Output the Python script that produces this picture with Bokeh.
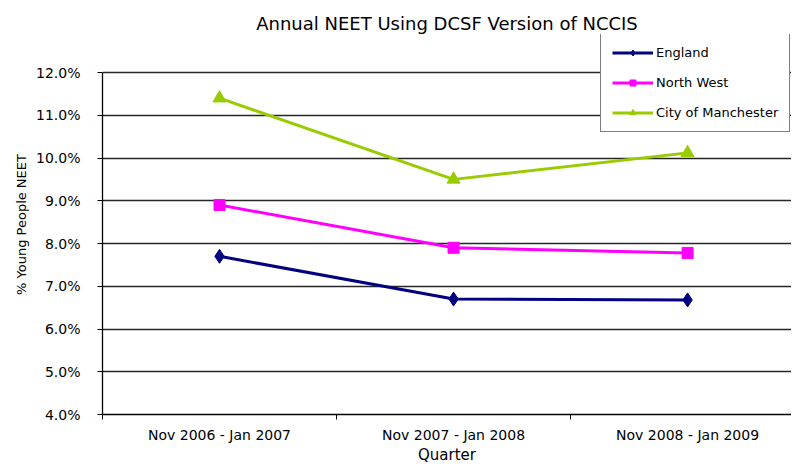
from bokeh.plotting import figure
from bokeh.models import FixedTicker, PrintfTickFormatter, Range1d, Legend, LegendItem
from bokeh.embed import file_html
from bokeh.resources import INLINE

categories = ["Nov 2006 - Jan 2007", "Nov 2007 - Jan 2008", "Nov 2008 - Jan 2009"]
england = [7.7, 6.7, 6.68]
north_west = [8.9, 7.9, 7.78]
manchester = [11.4, 9.5, 10.12]
y_ticks = [4, 5, 6, 7, 8, 9, 10, 11, 12]

x = [i + 0.5 for i in range(len(categories))]
FONT = "DejaVu Sans"

p = figure(width=791, height=467, output_backend="svg", toolbar_location=None,
           x_range=Range1d(0, 2.944), y_range=Range1d(4, 12.889),
           title="Annual NEET Using DCSF Version of NCCIS",
           min_border_left=102, min_border_right=0, min_border_top=34, min_border_bottom=53)
p.outline_line_color = None
p.background_fill_color = "white"
p.border_fill_color = "white"

p.title.align = "center"
p.title.text_font = FONT
p.title.text_font_size = "18px"
p.title.text_font_style = "normal"
p.title.text_color = "black"
p.title.standoff = 1

# grid
p.xgrid.grid_line_color = None
p.ygrid.grid_line_color = "black"
p.ygrid.grid_line_width = 1.3
p.ygrid.grid_line_alpha = 0.85
p.ygrid.bounds = (4, 12)

# axes
p.yaxis.ticker = FixedTicker(ticks=y_ticks)
p.yaxis.formatter = PrintfTickFormatter(format="%.1f%%")
p.yaxis.axis_label = "% Young People NEET"
p.yaxis.bounds = (4, 12)
p.xaxis.ticker = FixedTicker(ticks=x, minor_ticks=[0, 1, 2, 3])
p.xaxis.major_label_overrides = {xi: c for xi, c in zip(x, categories)}
p.xaxis.axis_label = "Quarter"
for ax in (p.xaxis[0], p.yaxis[0]):
    ax.axis_line_color = "black"
    ax.axis_line_width = 1.3
    ax.major_label_text_font = FONT
    ax.major_label_text_font_size = "14px"
    ax.major_label_text_color = "black"
    ax.axis_label_text_font = FONT
    ax.axis_label_text_font_style = "normal"
    ax.axis_label_text_color = "black"
p.yaxis.major_tick_out = 5
p.yaxis.major_tick_in = 0
p.yaxis.minor_tick_line_color = None
p.yaxis.major_tick_line_color = "black"
p.yaxis.axis_label_text_font_size = "13px"
p.yaxis.axis_label_standoff = 4
p.yaxis.major_label_standoff = 17
p.xaxis.major_tick_out = 0
p.xaxis.major_tick_in = 0
p.xaxis.minor_tick_out = 5
p.xaxis.minor_tick_in = 0
p.xaxis.minor_tick_line_color = "black"
p.xaxis.major_label_standoff = 7
p.xaxis.axis_label_text_font_size = "15px"
p.xaxis.axis_label_standoff = 0

series = [
    ("England", england, "#000080", "diamond", 14),
    ("North West", north_west, "#FF00FF", "square", 11),
    ("City of Manchester", manchester, "#99CC00", "triangle", 13),
]
items = []
for name, vals, color, marker, size in series:
    r1 = p.line(x, vals, line_color=color, line_width=3)
    r2 = p.scatter(x, vals, marker=marker, size=size, fill_color=color, line_color=color)
    items.append(LegendItem(label=name, renderers=[r1, r2]))

legend = Legend(items=items, location=(498, 282))
legend.border_line_color = "black"
legend.border_line_width = 1.3
legend.background_fill_color = "white"
legend.background_fill_alpha = 1
legend.padding = 11
legend.margin = 0
legend.spacing = 15
legend.glyph_width = 41
legend.glyph_height = 15
legend.label_height = 15
legend.label_standoff = 3
legend.label_text_font = FONT
legend.label_text_font_size = "13px"
legend.label_text_color = "black"
p.add_layout(legend, "center")

open("out.html", "w").write(file_html(p, INLINE))
